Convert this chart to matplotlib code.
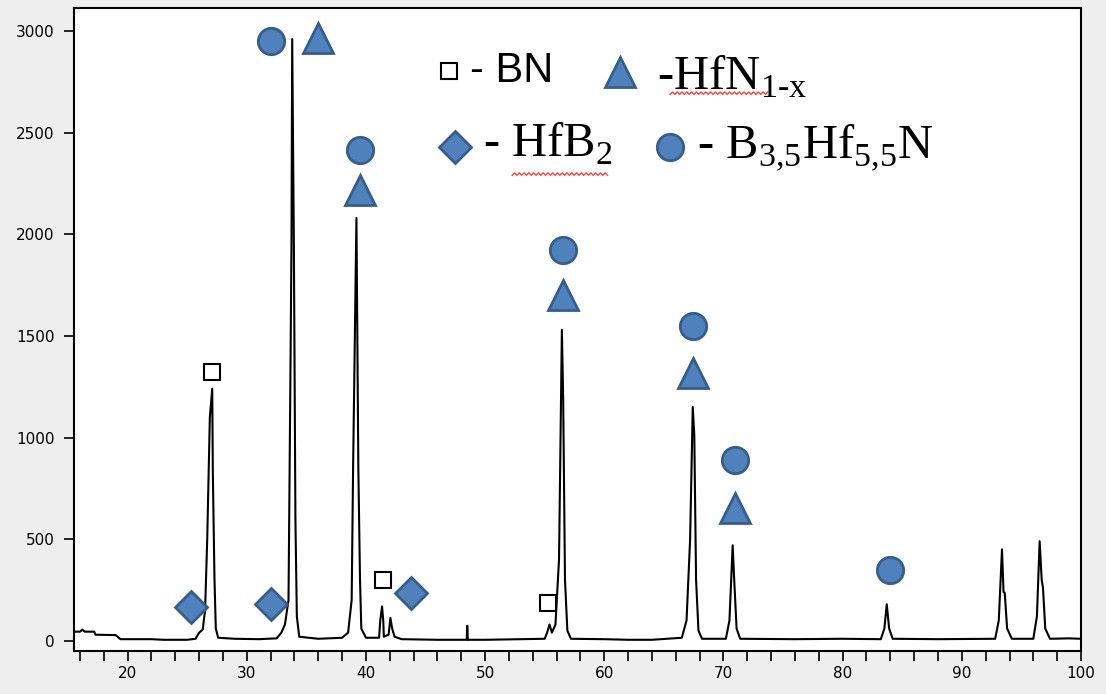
import numpy as np
from matplotlib import pyplot as plt

plt.rcParams['mathtext.fontset'] = 'custom'
plt.rcParams['mathtext.rm'] = 'Liberation Serif'

# XRD pattern (2theta, counts)
two_theta = [15.5, 16.0, 16.2, 16.4, 17.2, 17.3, 19.0, 19.4, 22.0, 23.0, 25.0, 25.7, 26.0, 26.3, 26.5,
             26.68, 26.8, 26.9, 27.1, 27.15, 27.29, 27.4, 27.6, 29.0, 31.0, 32.5, 32.9, 33.2, 33.5,
             33.66, 33.75, 33.81, 33.95, 34.08, 34.2, 34.4, 36.0, 38.0, 38.5, 38.8, 38.92, 39.2,
             39.36, 39.5, 39.61, 40.0, 41.1, 41.2, 41.35, 41.45, 41.5, 41.9, 42.05, 42.2, 42.4, 43.0,
             46.0, 47.0, 48.45, 48.5, 48.55, 50.0, 55.0, 55.2, 55.4, 55.6, 55.9, 56.2, 56.44, 56.55,
             56.7, 56.9, 57.2, 60.0, 62.0, 64.0, 66.5, 66.9, 67.2, 67.42, 67.55, 67.7, 67.9, 68.2,
             70.2, 70.5, 70.77, 70.9, 71.1, 71.4, 76.0, 80.0, 83.2, 83.5, 83.7, 83.9, 84.2, 88.0,
             92.8, 93.1, 93.37, 93.5, 93.6, 93.8, 94.2, 96.0, 96.3, 96.53, 96.7, 96.81, 97.0, 97.4,
             99.0, 100.0]
intensity = [45, 45, 55, 45, 45, 30, 28, 8, 8, 5, 5, 10, 40, 55, 150,
             500, 830, 1100, 1240, 830, 300, 60, 15, 10, 8, 12, 40, 80, 200,
             1300, 1950, 2960, 1950, 600, 120, 20, 10, 15, 40, 200, 850, 2080,
             850, 300, 60, 15, 15, 100, 169, 100, 20, 30, 113, 60, 20, 8,
             5, 5, 5, 74, 5, 5, 10, 40, 80, 40, 80, 400, 1530, 1185,
             300, 50, 10, 8, 5, 5, 15, 100, 500, 1150, 1013, 300, 50, 10,
             10, 100, 470, 300, 60, 10, 8, 10, 8, 60, 180, 60, 10, 8,
             10, 100, 450, 240, 236, 60, 10, 10, 120, 490, 300, 261, 60, 10,
             12, 10]

# phase marks above the peaks
bn_x = [27.04, 41.46, 55.3]
bn_y = [1323, 300, 187]
hfn_x = [36.0, 39.53, 56.55, 67.44, 70.96]
hfn_y = [2966, 2218, 1702, 1318, 654]
hfb2_x = [25.28, 31.99, 43.8]
hfb2_y = [167, 182, 236]
bhfn_x = [31.99, 39.53, 56.55, 67.44, 70.96, 83.96]
bhfn_y = [2951, 2415, 1923, 1549, 890, 349]

# legend entries
key_x = [46.99, 61.32, 47.49, 65.52]
key_y = [2804, 2799, 2430, 2430]
key_text = ['- BN', r'-HfN$_{\mathregular{1\text{-}x}}$', r'- HfB$_{\mathregular{2}}$',
            r'- B$_{\mathregular{3{,}5}}$Hf$_{\mathregular{5{,}5}}$N']
text_x = [48.75, 64.43, 49.84, 67.78]
text_y = [2750, 2710, 2381, 2381]

fill = '#4F81BD'
edge = '#385D8A'

fig = plt.figure(figsize=(11.06, 6.94), dpi=100, facecolor='#eeeeee')
ax = fig.add_axes([0.0669, 0.062, 0.9105, 0.9265])
ax.set_facecolor('white')

ax.plot(two_theta, intensity, color='black', lw=1.5)

tri = dict(marker='^', ms=21, mfc=fill, mec=edge, mew=2, ls='none')
circ = dict(marker='o', ms=19, mfc=fill, mec=edge, mew=2, ls='none')
dia = dict(marker='D', ms=16, mfc=fill, mec=edge, mew=2, ls='none')
sq = dict(marker='s', ms=12, mfc='white', mec='black', mew=1.5, ls='none')

ax.plot(bn_x, bn_y, **sq)
ax.plot(hfn_x, hfn_y, **tri)
ax.plot(hfb2_x, hfb2_y, **dia)
ax.plot(bhfn_x, bhfn_y, **circ)

# legend drawn by hand like in the source picture
ax.plot(key_x[0], key_y[0], **sq)
ax.plot(key_x[1], key_y[1], **tri)
ax.plot(key_x[2], key_y[2], **dia)
ax.plot(key_x[3], key_y[3], **circ)
ax.text(text_x[0], text_y[0], key_text[0], fontsize=30, family='Liberation Sans', va='baseline')
for i in range(1, 4):
    ax.text(text_x[i], text_y[i], key_text[i], fontsize=35, family='Liberation Serif', va='baseline')

# red spell-check squiggles
for x0, x1, y0 in [(65.52, 73.75, 2688), (52.27, 60.4, 2290)]:
    wx = np.arange(x0, x1, 0.2)
    wy = y0 + 12 * (np.arange(len(wx)) % 2)
    ax.plot(wx, wy, color='#ff4040', lw=1.0)

ax.set_xlim(15.5, 100)
ax.set_ylim(-50, 3113)
ax.set_xticks(range(20, 101, 10))
ax.set_xticks(range(16, 101, 2), minor=True)
ax.set_yticks(range(0, 3001, 500))
ax.tick_params(axis='both', which='both', direction='out', length=7, width=1.2, labelsize=11)
ax.tick_params(axis='y', pad=7)
ax.tick_params(axis='x', pad=4)
for s in ax.spines.values():
    s.set_linewidth(1.5)

plt.savefig('out.png', dpi=100, facecolor=fig.get_facecolor())
